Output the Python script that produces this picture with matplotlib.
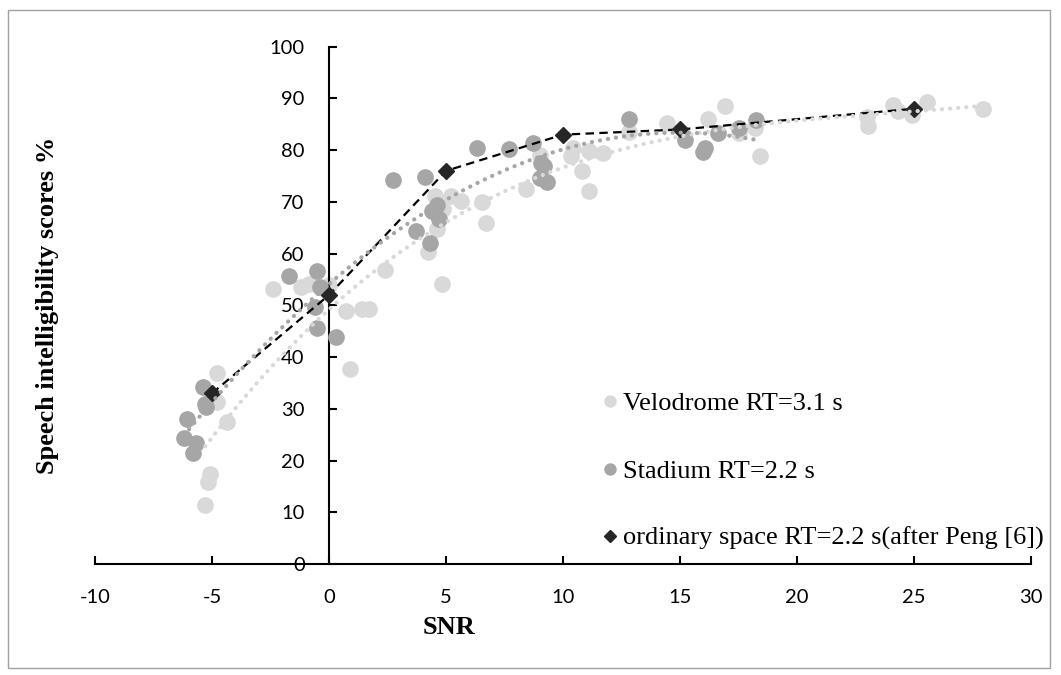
import numpy as np
import matplotlib
matplotlib.use("Agg")
import matplotlib.pyplot as plt
from matplotlib.patches import Rectangle

# ---- data ----
velo_x = [-4.80, -4.77, -4.37, -5.09, -5.18, -5.29,
          -2.38, -1.20, -0.85, 0.00, 0.71, 1.40, 1.72, 0.90,
          2.39, 4.22, 4.60, 4.82, 4.53, 5.21, 5.63, 4.86, 6.52, 6.71,
          8.42, 9.02, 10.41, 10.33, 11.12, 11.72, 10.82, 11.12,
          12.82, 14.43, 16.21, 16.92, 17.52, 18.21, 18.42,
          22.98, 23.05, 24.12, 24.33, 24.90, 25.57, 27.93]
velo_y = [36.9, 31.3, 27.4, 17.4, 15.8, 11.5,
          53.1, 53.6, 54.2, 54.0, 49.0, 49.3, 49.3, 37.7,
          56.9, 60.4, 64.7, 54.1, 71.2, 71.1, 70.1, 68.6, 70.0, 65.9,
          72.5, 79.1, 80.4, 78.9, 79.9, 79.4, 75.9, 72.1,
          83.5, 85.2, 86.0, 88.6, 83.3, 84.3, 78.8,
          86.5, 84.7, 88.8, 87.5, 86.8, 89.4, 88.0]

stad_x = [-5.40, -5.27, -5.30, -6.08, -6.20, -5.68, -5.80,
          -1.70, -0.50, -0.38, -0.60, -0.50, 0.30,
          2.72, 4.12, 6.31, 7.71, 8.73,
          4.60, 4.39, 4.70, 3.72, 4.32,
          9.05, 9.20, 9.02, 9.30,
          12.82, 15.21, 16.07, 16.00, 16.64, 17.52, 18.24]
stad_y = [34.2, 30.3, 31.0, 28.0, 24.4, 23.3, 21.4,
          55.7, 56.7, 53.6, 49.6, 45.6, 43.8,
          74.3, 74.8, 80.5, 80.3, 81.4,
          69.4, 68.3, 66.7, 64.4, 62.0,
          77.5, 77.0, 74.6, 73.9,
          86.1, 81.9, 80.4, 79.6, 83.3, 84.3, 85.8]

ord_x = [-5, 0, 5, 10, 15, 25]
ord_y = [33, 52, 76, 83, 84, 88]

labels = ["Velodrome RT=3.1 s", "Stadium RT=2.2 s",
          "ordinary space RT=2.2 s(after Peng [6])"]
xticks = [-10, -5, 0, 5, 10, 15, 20, 25, 30]
yticks = [0, 10, 20, 30, 40, 50, 60, 70, 80, 90, 100]

c_velo = "#d9d9d9"
c_stad = "#a6a6a6"
c_ord = "#262626"

W, H = 1061, 675
fig = plt.figure(figsize=(W / 100, H / 100), dpi=100)
fig.patches.append(Rectangle((8 / W, 1 - 668 / H), (1050 - 8) / W, (668 - 10) / H,
                             transform=fig.transFigure, fill=False,
                             edgecolor="#a0a0a0", linewidth=1.0))

ax = fig.add_axes([95 / W, 1 - 564 / H, (1031 - 95) / W, (564 - 46.7) / H])
ax.set_xlim(-10, 30)
ax.set_ylim(0, 100)

ax.plot(velo_x, velo_y, "o", color=c_velo, markersize=11, zorder=2, label=labels[0])
ax.plot(stad_x, stad_y, "o", color=c_stad, markersize=11, zorder=3, label=labels[1])
ax.plot(ord_x, ord_y, color="black", lw=1.6, dashes=(3.8, 2.4), zorder=4)
ax.plot(ord_x, ord_y, "D", color=c_ord, markersize=8.5, zorder=4.5, label=labels[2])

# trendlines (least squares fits of the series)
pv = np.polyfit(velo_x, velo_y, 3)
xs = np.linspace(min(velo_x), max(velo_x), 400)
ax.plot(xs, np.polyval(pv, xs), color=c_velo, lw=3.0, dashes=(0.05, 1.9),
        dash_capstyle="round", solid_capstyle="round", zorder=5)
ps = np.polyfit(stad_x, stad_y, 2)
xs2 = np.linspace(min(stad_x), max(stad_x), 400)
ax.plot(xs2, np.polyval(ps, xs2), color=c_stad, lw=3.0, dashes=(0.05, 1.9),
        dash_capstyle="round", solid_capstyle="round", zorder=5)

for s in ["top", "right"]:
    ax.spines[s].set_visible(False)
ax.spines["left"].set_position(("data", 0))
for s in ["left", "bottom"]:
    ax.spines[s].set_linewidth(1.5)
    ax.spines[s].set_color("black")

ax.set_xticks(xticks)
ax.set_yticks(yticks)
ax.set_xticklabels([str(v) for v in xticks])
ax.set_yticklabels([str(v) for v in yticks])
ax.tick_params(axis="both", direction="in", length=6, width=1.5,
               labelsize=14.5, colors="black")
ax.tick_params(axis="y", pad=17.5)
ax.tick_params(axis="x", pad=18)
for t in ax.get_xticklabels() + ax.get_yticklabels():
    t.set_fontfamily("Lato")

fig.text(48 / W, 1 - 305 / H, "Speech intelligibility scores %", rotation=90,
         ha="center", va="center", fontsize=19, fontweight="bold",
         family="Liberation Serif")
fig.text(449 / W, 1 - 628 / H, "SNR", ha="center", va="center", fontsize=19,
         fontweight="bold", family="Liberation Serif")

leg = ax.legend(loc="upper left", bbox_to_anchor=(603 / W, 1 - 392 / H),
                bbox_transform=fig.transFigure, frameon=False,
                prop={"family": "Liberation Serif", "size": 19},
                handlelength=0.5, handletextpad=0.25, labelspacing=1.66,
                markerscale=0.72, borderpad=0, borderaxespad=0)

fig.savefig("out.png", dpi=100)
